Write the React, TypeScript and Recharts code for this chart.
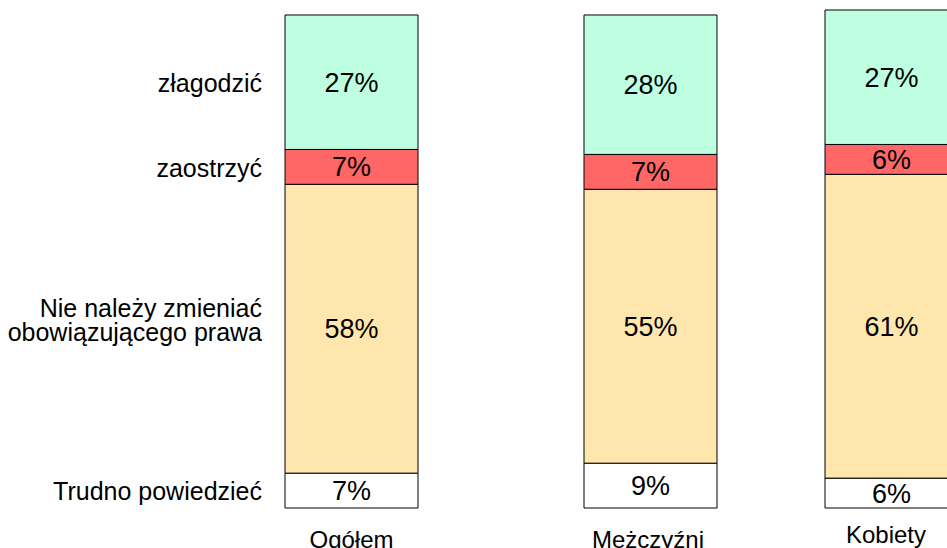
import React from "react";
import { BarChart, Bar, XAxis, YAxis, LabelList } from "recharts";

const categories = ["Ogółem", "Mężczyźni", "Kobiety"];
const zlagodzic = [27, 28, 27];
const zaostrzyc = [7, 7, 6];
const nieZmieniac = [58, 55, 61];
const trudno = [7, 9, 6];

const seriesNames = [
  "Trudno powiedzieć",
  "Nie należy zmieniać\nobowiązującego prawa",
  "zaostrzyć",
  "złagodzić",
];

const FONT = "'Liberation Sans', Arial, sans-serif";

const series = [
  { key: "trudno", name: seriesNames[0], fill: "#ffffff" },
  { key: "nieZmieniac", name: seriesNames[1], fill: "#ffe6ad" },
  { key: "zaostrzyc", name: seriesNames[2], fill: "#ff6666" },
  { key: "zlagodzic", name: seriesNames[3], fill: "#bdffe0" },
];

// where each group sits on the page (the groups are not evenly spaced)
const layout = [
  { left: 0, width: 503, marginLeft: 200, labelDy: 40, labelDx: 0 },
  { left: 500, width: 300, marginLeft: 0, labelDy: 40, labelDx: -2 },
  { left: 741, width: 300, marginLeft: 0, labelDy: 35, labelDx: -5 },
];

const PercentLabel = (props: any) => {
  const { x, y, width, height, value } = props;
  return (
    <text
      x={x + width / 2}
      y={y + height / 2}
      dy="0.35em"
      textAnchor="middle"
      fontSize={27}
      fontFamily={FONT}
      fill="#000"
    >
      {value}%
    </text>
  );
};

const makeSideLabel = (name: string) => (props: any) => {
  const { x, y, height } = props;
  const lines = name.split("\n");
  const cy = y + height / 2 + (lines.length > 1 ? -8 : 1);
  return (
    <text textAnchor="end" fontSize={25} fontFamily={FONT} fill="#000">
      {lines.map((l, i) => (
        <tspan key={i} x={x - 23} y={cy + (i - (lines.length - 1) / 2) * 24} dy="0.35em">
          {l}
        </tspan>
      ))}
    </text>
  );
};

const makeTick = (dy: number, dx: number) => (props: any) => {
  const { x, y, payload } = props;
  return (
    <text x={x + dx} y={y + dy} textAnchor="middle" fontSize={24} fontFamily={FONT} fill="#000">
      {payload.value}
    </text>
  );
};

export default function App() {
  return (
    <div
      style={{
        position: "absolute",
        left: 0,
        top: 0,
        width: 947,
        height: 548,
        overflow: "hidden",
        background: "#fff",
      }}
    >
      {categories.map((cat, i) => {
        const row = [
          {
            name: cat,
            zlagodzic: zlagodzic[i],
            zaostrzyc: zaostrzyc[i],
            nieZmieniac: nieZmieniac[i],
            trudno: trudno[i],
          },
        ];
        const lay = layout[i];
        return (
          <div key={cat} style={{ position: "absolute", left: lay.left, top: 0 }}>
            <BarChart
              width={lay.width}
              height={548}
              data={row}
              margin={{ top: 10, right: 0, bottom: 0, left: lay.marginLeft }}
              barCategoryGap={0}
            >
              <YAxis hide domain={[0, 100]} type="number" />
              <XAxis
                dataKey="name"
                axisLine={false}
                tickLine={false}
                tickSize={0}
                tickMargin={0}
                height={40}
                interval={0}
                tick={makeTick(lay.labelDy, lay.labelDx)}
              />
              {series.map((s) => (
                <Bar
                  key={s.key}
                  dataKey={s.key}
                  name={s.name}
                  stackId="a"
                  fill={s.fill}
                  stroke="#000"
                  strokeWidth={1}
                  barSize={133}
                  isAnimationActive={false}
                >
                  <LabelList dataKey={s.key} content={PercentLabel} />
                  {i === 0 && <LabelList dataKey={s.key} content={makeSideLabel(s.name)} />}
                </Bar>
              ))}
            </BarChart>
          </div>
        );
      })}
    </div>
  );
}
